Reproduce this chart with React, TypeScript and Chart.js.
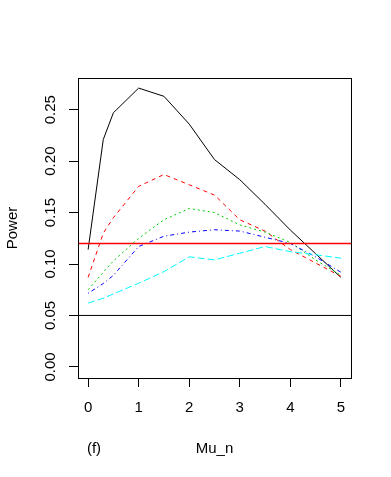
import React, { useEffect, useRef } from "react";
import { Chart, registerables } from "chart.js";

Chart.register(...registerables);

// ---- data ----
const muValues = [0, 0.3, 0.5, 1, 1.5, 2, 2.5, 3, 3.5, 4, 4.5, 5];
const powerBlack = [0.114, 0.221, 0.247, 0.271, 0.263, 0.236, 0.2015, 0.182, 0.158, 0.133, 0.11, 0.087];
const powerRed = [0.087, 0.13, 0.145, 0.1755, 0.187, 0.177, 0.167, 0.143, 0.132, 0.114, 0.101, 0.088];
const powerGreen = [0.075, 0.092, 0.103, 0.125, 0.143, 0.154, 0.15, 0.138, 0.131, 0.121, 0.104, 0.089];
const powerBlue = [0.0716, 0.081, 0.089, 0.117, 0.127, 0.131, 0.1333, 0.132, 0.126, 0.12, 0.107, 0.092];
const powerCyan = [0.062, 0.0667, 0.071, 0.0813, 0.0926, 0.107, 0.104, 0.1105, 0.117, 0.112, 0.109, 0.1057];

const refLineBlack = 0.05;
const refLineRed = 0.12;

const xTickValues = [0, 1, 2, 3, 4, 5];
const yTickValues = [0, 0.05, 0.1, 0.15, 0.2, 0.25];
const xRange = [-0.2, 5.2];
const yRange = [-0.0108, 0.2808];

const xLabel = "Mu_n";
const yLabel = "Power";
const panelLabel = "(f)";

const FONT_FAMILY = '"Liberation Sans", Arial, Helvetica, sans-serif';
const FONT_SIZE = 15;

function toPoints(ys: number[]) {
  return muValues.map((x, i) => ({ x, y: ys[i] }));
}

export default function App() {
  const ref = useRef<HTMLCanvasElement>(null);

  useEffect(() => {
    document.body.style.margin = "0";
    const canvas = ref.current;
    if (!canvas) return;

    const textPlugin = {
      id: "rText",
      afterDraw(chart: any) {
        const ctx = chart.ctx as CanvasRenderingContext2D;
        const a = chart.chartArea;
        const ys = chart.scales.y;
        ctx.save();
        // plot box
        ctx.strokeStyle = "#000";
        ctx.lineWidth = 1;
        ctx.setLineDash([]);
        const l = Math.round(a.left) + 0.5;
        const t = Math.round(a.top) + 0.5;
        const r = Math.round(a.right) + 0.5;
        const b = Math.round(a.bottom) + 0.5;
        ctx.strokeRect(l, t, r - l, b - t);

        ctx.fillStyle = "#000";
        ctx.font = `${FONT_SIZE}px ${FONT_FAMILY}`;
        // rotated y tick labels
        yTickValues.forEach((v) => {
          const py = ys.getPixelForValue(v);
          ctx.save();
          ctx.translate(55, py);
          ctx.rotate(-Math.PI / 2);
          ctx.textAlign = "center";
          ctx.textBaseline = "alphabetic";
          ctx.fillText(v.toFixed(2), 0, 0);
          ctx.restore();
        });
        // y axis title
        ctx.save();
        ctx.translate(17, (a.top + a.bottom) / 2);
        ctx.rotate(-Math.PI / 2);
        ctx.textAlign = "center";
        ctx.textBaseline = "alphabetic";
        ctx.fillText(yLabel, 0, 0);
        ctx.restore();
        // x axis title and panel label
        ctx.textAlign = "center";
        ctx.textBaseline = "alphabetic";
        ctx.fillText(xLabel, (a.left + a.right) / 2, 453);
        ctx.fillText(panelLabel, 94, 453);
        ctx.restore();
      },
    };

    const line = (data: number[], color: string, dash: number[], order: number) => ({
      data: toPoints(data),
      borderColor: color,
      backgroundColor: color,
      borderWidth: 1,
      borderDash: dash,
      pointRadius: 0,
      tension: 0,
      fill: false,
      order,
    });

    const hline = (v: number, color: string, width: number, order: number) => ({
      data: [
        { x: xRange[0], y: v },
        { x: xRange[1], y: v },
      ],
      borderColor: color,
      backgroundColor: color,
      borderWidth: width,
      pointRadius: 0,
      fill: false,
      order,
    });

    const chart = new Chart(canvas, {
      type: "line",
      data: {
        datasets: [
          line(powerBlack, "#000000", [], 7),
          line(powerRed, "#FF0000", [4, 4], 6),
          line(powerGreen, "#00CD00", [2, 3], 5),
          line(powerBlue, "#0000FF", [1, 3, 4, 3], 4),
          line(powerCyan, "#00FFFF", [7, 3], 3),
          hline(refLineBlack, "#000000", 1, 2),
          hline(refLineRed, "#FF0000", 1.5, 1),
        ] as any,
      },
      options: {
        animation: false,
        responsive: false,
        devicePixelRatio: 1,
        layout: { padding: { left: 0, right: 40, top: 78, bottom: 0 } },
        plugins: {
          legend: { display: false },
          tooltip: { enabled: false },
          title: { display: false },
        },
        scales: {
          x: {
            type: "linear",
            min: xRange[0],
            max: xRange[1],
            afterBuildTicks: (scale: any) => {
              scale.ticks = xTickValues.map((v) => ({ value: v }));
            },
            afterFit: (scale: any) => {
              scale.height = 99;
            },
            grid: {
              display: true,
              drawOnChartArea: false,
              drawTicks: true,
              tickLength: 9,
              color: "#000",
              lineWidth: 1,
            },
            border: { display: false },
            ticks: {
              color: "#000",
              font: { family: FONT_FAMILY, size: FONT_SIZE },
              padding: 12,
              maxRotation: 0,
              minRotation: 0,
              autoSkip: false,
              callback: (v: any) => String(v),
            },
          },
          y: {
            type: "linear",
            min: yRange[0],
            max: yRange[1],
            afterBuildTicks: (scale: any) => {
              scale.ticks = yTickValues.map((v) => ({ value: v }));
            },
            afterFit: (scale: any) => {
              scale.width = 78;
            },
            grid: {
              display: true,
              drawOnChartArea: false,
              drawTicks: true,
              tickLength: 9,
              color: "#000",
              lineWidth: 1,
            },
            border: { display: false },
            ticks: { display: false },
          },
        },
      } as any,
      plugins: [textPlugin],
    });

    return () => chart.destroy();
  }, []);

  return (
    <div style={{ width: 391, height: 477, background: "#fff" }}>
      <canvas ref={ref} width={391} height={477} style={{ display: "block" }} />
    </div>
  );
}
